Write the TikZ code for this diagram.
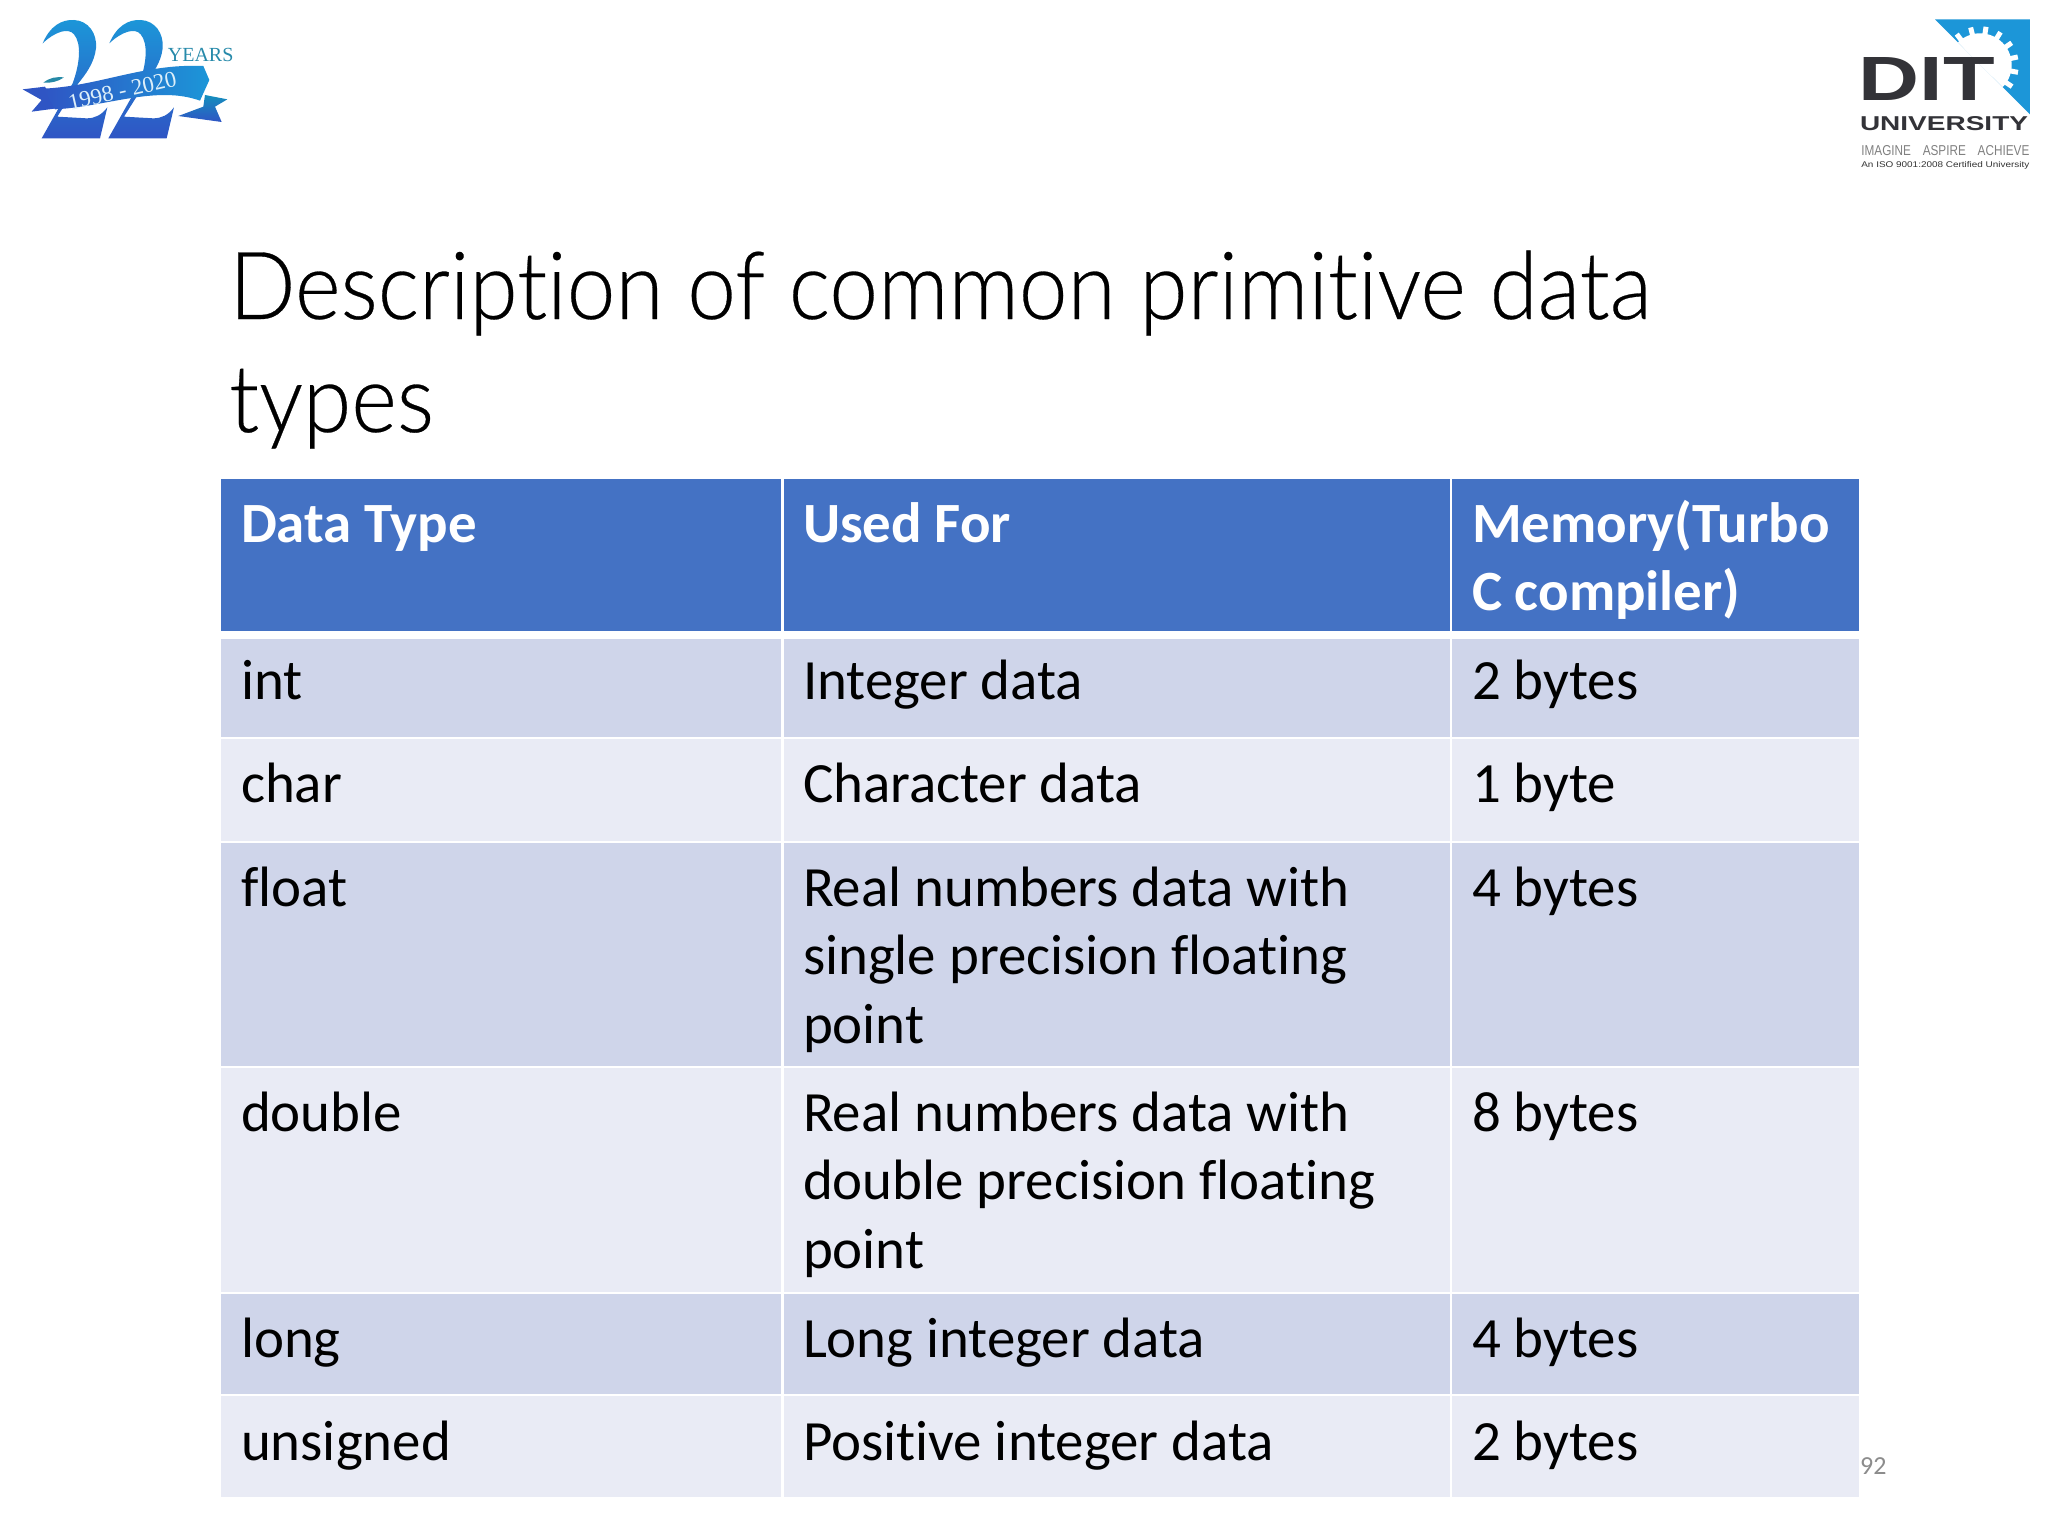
\documentclass[tikz,border=0pt]{standalone}
\usepackage{fontspec}
\usepackage{graphicx}
\setmainfont[Ligatures={NoCommon}]{Carlito}
\newfontfamily\logoserif{Liberation Serif}
\newfontfamily\logosans{Liberation Sans}
\newfontfamily\titlefont[FakeStretch=0.93,FakeBold=0.3,Ligatures={NoCommon}]{Lato Light}
\definecolor{headblue}{HTML}{4472C4}
\definecolor{rowdark}{HTML}{CFD5EA}
\definecolor{rowlight}{HTML}{E9EBF5}
\definecolor{ditgray}{HTML}{333338}
\definecolor{ditblue}{HTML}{1C96D8}
\definecolor{logolow}{HTML}{2F55C4}
\tikzset{
  x=1pt,y=-1pt,
  celltext/.style={anchor=base west,inner sep=0pt,outer sep=0pt,align=left,font=\fontsize{56.9}{68.6}\selectfont,text=black},
  headtext/.style={celltext,text=white,font=\fontsize{56.9}{68.6}\selectfont\bfseries},
  titletext/.style={anchor=base west,inner sep=0pt,font=\titlefont\fontsize{94}{113}\selectfont,text=black},
  logotext/.style={inner sep=0pt,outer sep=0pt},
}
\newcommand{\cellbox}[5]{\fill[#1] (#2,#4) rectangle (#3,#5);}
\begin{document}
\begin{tikzpicture}
\useasboundingbox (0,0) rectangle (2048,1536);
\fill[white] (0,0) rectangle (2048,1536);

% left logo
\begin{scope}[scale=1/3]
  \foreach \dx in {0,200}{
    \begin{scope}[xshift=\dx pt]
      \path[top color=ditblue,bottom color=logolow]
        (128,130) .. controls (150,78) and (185,58) .. (222,60)
        .. controls (265,62) and (292,100) .. (288,145)
        .. controls (283,190) and (255,225) .. (235,250)
        -- (172,350) -- (260,355) .. controls (285,355) and (305,345) .. (322,322)
        -- (300,415) -- (125,415) -- (218,250)
        .. controls (240,190) and (245,130) .. (222,103)
        .. controls (205,82) and (165,95) .. (128,130) -- cycle;
    \end{scope}
  }
  \fill[ditblue!55!teal!80!gray] (130,248) .. controls (150,232) and (170,230) .. (192,232) .. controls (175,245) and (150,250) .. (130,248) -- cycle;
  \fill[logolow] (68,268) -- (135,260) -- (170,325) -- (95,335) -- (125,300) -- cycle;
  \path[top color=ditblue!70!teal,bottom color=logolow] (615,285) -- (682,298) -- (645,320) -- (665,366) -- (535,348) -- (610,320) -- cycle;
  \path[left color=logolow,right color=ditblue]
    (130,266) .. controls (300,258) and (430,190) .. (610,198)
    -- (628,240) -- (600,302) .. controls (470,255) and (320,320) .. (165,328) -- cycle;
  \node[logotext,rotate=13,text=white!85!ditblue] (years) at (367,272) {\fontsize{22.8}{24}\logoserif 1998 - 2020};
  \node[logotext,text=ditblue!60!teal!80!gray] (yr) at (602,166) {\fontsize{20}{22}\logoserif YEARS};
\end{scope}

% right logo
\begin{scope}[xshift=1830pt,scale=1/3]
  \begin{scope}
    \clip (315,58) -- (602,58) -- (602,345) -- cycle;
    \fill[ditblue] (315,58) -- (602,58) -- (602,345) -- cycle;
    \fill[white] (450,195) circle (95);
    \foreach \a in {-60,-37,-14,9,32,55,78,101,124}{
      \draw[white,line width=5pt] (450,195) -- ++(\a-90:116);
    }
  \end{scope}
  \node[logotext,text=ditgray] (dit) at (291,236) {\resizebox{136pt}{43pt}{\logosans\bfseries DIT}};
  \node[logotext,text=ditgray] (univ) at (342,372) {\resizebox{168pt}{14pt}{\logosans\bfseries UNIVERSITY}};
  \node[logotext,text=gray] (tag) at (346,452) {\resizebox{168pt}{10pt}{\logosans IMAGINE\quad ASPIRE\quad ACHIEVE}};
  \node[logotext,text=black!80] (iso) at (346,497) {\resizebox{168pt}{6pt}{\logosans An ISO 9001:2008 Certified University}};
\end{scope}

% title
\node[titletext] (t1) at (229,319) {Description of common primitive data};
\node[titletext] (t2) at (229,432) {types};

% table cells
\foreach \ya/\yb/\c in {479/631/headblue,639/737/rowdark,739/841/rowlight,843/1066/rowdark,1068/1292/rowlight,1294/1394/rowdark,1396/1497/rowlight}{
  \cellbox{\c}{221}{781}{\ya}{\yb}
  \cellbox{\c}{784}{1450}{\ya}{\yb}
  \cellbox{\c}{1452}{1859}{\ya}{\yb}
}

% table text
\node[headtext] (h1) at (241,542) {Data Type};
\node[headtext] (h2) at (803,542) {Used For};
\node[headtext] (h3) at (1472,542) {Memory(Turbo};
\node[headtext] (h3b) at (1472,610.5) {C compiler)};

\node[celltext] (a1) at (241,699) {int};
\node[celltext] (b1) at (803,699) {Integer data};
\node[celltext] (c1) at (1472,699) {2 bytes};

\node[celltext] (a2) at (241,802) {char};
\node[celltext] (b2) at (803,802) {Character data};
\node[celltext] (c2) at (1472,802) {1 byte};

\node[celltext] (a3) at (241,906) {float};
\node[celltext] (b3) at (803,906) {Real numbers data with};
\node[celltext] (b3b) at (803,974.6) {single precision floating};
\node[celltext] (b3c) at (803,1043) {point};
\node[celltext] (c3) at (1472,906) {4 bytes};

\node[celltext] (a4) at (241,1131) {double};
\node[celltext] (b4) at (803,1131) {Real numbers data with};
\node[celltext] (b4b) at (803,1199.6) {double precision floating};
\node[celltext] (b4c) at (803,1268) {point};
\node[celltext] (c4) at (1472,1131) {8 bytes};

\node[celltext] (a5) at (241,1357) {long};
\node[celltext] (b5) at (803,1357) {Long integer data};
\node[celltext] (c5) at (1472,1357) {4 bytes};

\node[celltext] (a6) at (241,1460) {unsigned};
\node[celltext] (b6) at (803,1460) {Positive integer data};
\node[celltext] (c6) at (1472,1460) {2 bytes};

\node[anchor=base west,inner sep=0pt,text=gray!90,font=\fontsize{26}{28}\selectfont] (pg) at (1860,1474) {92};
\end{tikzpicture}
\end{document}
